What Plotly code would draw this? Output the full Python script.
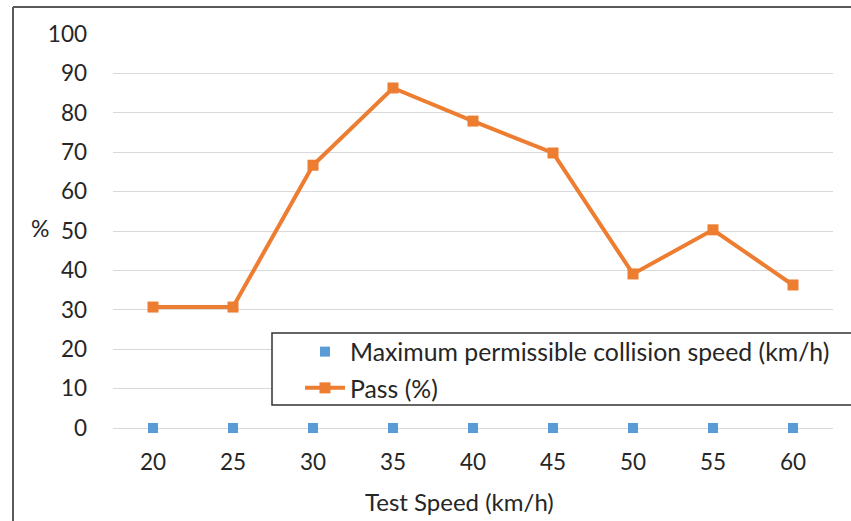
import plotly.graph_objects as go

speeds = ["20", "25", "30", "35", "40", "45", "50", "55", "60"]
max_permissible = [0, 0, 0, 0, 0, 0, 0, 0, 0]
pass_pct = [30.7, 30.7, 66.7, 86.3, 77.9, 69.8, 39.1, 50.3, 36.3]
y_ticks = [0, 10, 20, 30, 40, 50, 60, 70, 80, 90, 100]

FONT = "Lato, Carlito, Calibri, sans-serif"
TXT = "#262626"
L, R, T, B = 113, 18, 34, 93
W, H = 851, 521
pw, ph = W - L - R, H - T - B

def px_x(p):
    return (p - L) / pw

def px_y(p):
    return (H - B - p) / ph

fig = go.Figure()
fig.add_trace(go.Scatter(
    x=speeds, y=max_permissible, mode="markers",
    name="Maximum permissible collision speed (km/h)",
    legendgroup="a", cliponaxis=False,
    marker=dict(symbol="square", size=10, color="#5B9BD5"),
))
fig.add_trace(go.Scatter(
    x=speeds, y=pass_pct, mode="lines+markers",
    name="Pass (%)", legendgroup="b", cliponaxis=False,
    line=dict(color="#ED7D31", width=4),
    marker=dict(symbol="square", size=11, color="#ED7D31"),
))

shapes = [
    dict(type="line", xref="paper", yref="paper",
         x0=px_x(13), x1=px_x(851), y0=px_y(7), y1=px_y(7),
         line=dict(color="#595959", width=2)),
    dict(type="line", xref="paper", yref="paper",
         x0=px_x(13), x1=px_x(13), y0=px_y(7), y1=px_y(521),
         line=dict(color="#595959", width=2)),
    dict(type="rect", xref="paper", yref="paper",
         x0=px_x(272), x1=px_x(860), y0=px_y(405), y1=px_y(333),
         fillcolor="white", line=dict(color="#333333", width=1.5), layer="above"),
]

fig.update_layout(
    width=W, height=H,
    margin=dict(l=L, r=R, t=T, b=B),
    paper_bgcolor="white", plot_bgcolor="white",
    font=dict(family=FONT, size=24, color=TXT),
    showlegend=True,
    legend=dict(
        x=px_x(300), y=px_y(329), xanchor="left", yanchor="top",
        bgcolor="rgba(0,0,0,0)", borderwidth=0,
        font=dict(family=FONT, size=24.8, color=TXT),
        tracegroupgap=1, itemwidth=40, traceorder="grouped",
    ),
    shapes=shapes,
    annotations=[
        dict(text="%", xref="paper", yref="paper", x=px_x(40), y=px_y(228),
             showarrow=False, xanchor="center", yanchor="middle",
             font=dict(family=FONT, size=23, color=TXT)),
        dict(text="Test Speed (km/h)", xref="paper", yref="paper",
             x=px_x(459), y=px_y(501), showarrow=False,
             xanchor="center", yanchor="middle",
             font=dict(family=FONT, size=24, color=TXT)),
    ],
)
fig.update_xaxes(
    type="category", range=[-0.5, 8.5], showgrid=False, zeroline=False,
    showline=False, ticks="", ticklabelstandoff=18,
    tickfont=dict(family=FONT, size=22.5, color=TXT),
)
fig.update_yaxes(
    range=[0, 100], tickvals=y_ticks, showgrid=True, gridcolor="#D9D9D9",
    gridwidth=1, zeroline=True, zerolinecolor="#D9D9D9", zerolinewidth=1,
    showline=False, ticks="", ticklabelstandoff=25,
    tickfont=dict(family=FONT, size=22.5, color=TXT),
)

fig.write_html("out.html", config={"displayModeBar": False},
               post_script="document.body.style.margin='0';")
